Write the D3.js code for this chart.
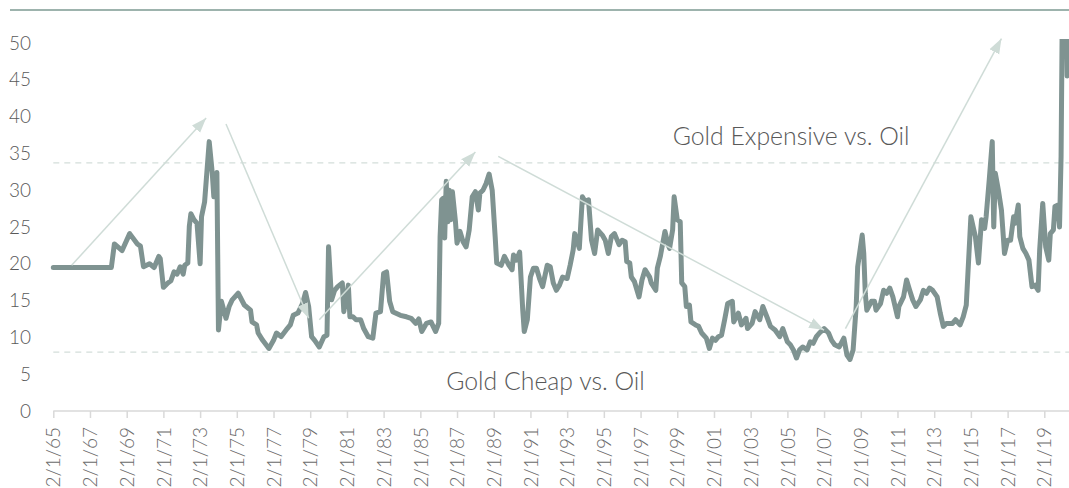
<!DOCTYPE html>
<html><head><meta charset="utf-8">
<script src="https://cdn.jsdelivr.net/npm/d3@7"></script>
<style>
body{margin:0;background:#fff;}
svg{display:block;font-family:Lato,"Source Sans Pro","Open Sans",sans-serif;font-weight:300;}
</style></head><body>
<svg id="c" width="1069" height="488"></svg>
<script>
// ---- data (gold / oil ratio) ----
const dates = ["1965-02","1968-04","1968-06","1968-11","1969-04","1969-09","1969-11","1970-01","1970-05","1970-08","1970-11","1970-12","1971-02","1971-05","1971-07","1971-09","1971-11","1972-01","1972-03","1972-04","1972-06","1972-07","1972-08","1972-10","1972-12","1973-02","1973-03","1973-05","1973-08","1973-10","1973-11","1974-01","1974-02","1974-04","1974-07","1974-09","1974-11","1975-03","1975-07","1975-11","1975-12","1976-03","1976-04","1976-07","1976-11","1977-02","1977-04","1977-07","1977-11","1978-01","1978-03","1978-06","1978-09","1978-11","1979-01","1979-03","1979-05","1979-08","1979-11","1980-01","1980-02","1980-04","1980-06","1980-08","1980-11","1980-12","1981-03","1981-04","1981-06","1981-08","1981-11","1982-01","1982-04","1982-07","1982-09","1982-12","1983-02","1983-04","1983-06","1983-08","1984-01","1984-05","1984-08","1984-11","1985-01","1985-03","1985-06","1985-09","1985-12","1986-02","1986-03","1986-04","1986-05","1986-06","1986-07","1986-08","1986-09","1986-10","1986-11","1987-01","1987-02","1987-04","1987-06","1987-08","1987-10","1987-12","1988-02","1988-04","1988-05","1988-07","1988-09","1988-11","1989-01","1989-03","1989-04","1989-07","1989-09","1989-12","1990-02","1990-03","1990-05","1990-07","1990-09","1990-10","1990-12","1991-02","1991-04","1991-06","1991-08","1991-10","1992-01","1992-03","1992-05","1992-07","1992-09","1992-11","1993-02","1993-04","1993-06","1993-07","1993-09","1993-10","1993-12","1994-02","1994-04","1994-06","1994-08","1994-10","1995-01","1995-03","1995-05","1995-07","1995-09","1995-12","1996-02","1996-04","1996-05","1996-07","1996-08","1996-10","1997-01","1997-03","1997-05","1997-08","1997-09","1997-12","1998-01","1998-03","1998-06","1998-08","1998-09","1998-11","1998-12","1999-02","1999-04","1999-05","1999-07","1999-08","1999-10","1999-11","2000-02","2000-04","2000-06","2000-09","2000-11","2001-01","2001-03","2001-05","2001-07","2001-09","2001-11","2002-02","2002-03","2002-06","2002-08","2002-11","2002-12","2003-03","2003-05","2003-08","2003-10","2004-01","2004-03","2004-06","2004-09","2004-11","2005-02","2005-04","2005-06","2005-08","2005-10","2005-12","2006-03","2006-05","2006-07","2006-09","2006-11","2007-02","2007-05","2007-07","2007-09","2007-12","2008-03","2008-05","2008-07","2008-09","2008-11","2008-12","2009-03","2009-04","2009-05","2009-06","2009-09","2009-11","2009-12","2010-03","2010-05","2010-07","2010-09","2010-11","2011-02","2011-03","2011-06","2011-08","2011-10","2011-12","2012-02","2012-05","2012-07","2012-09","2012-11","2013-01","2013-04","2013-06","2013-08","2013-10","2014-02","2014-04","2014-07","2014-09","2014-11","2015-02","2015-04","2015-05","2015-07","2015-09","2015-11","2015-12","2016-02","2016-04","2016-05","2016-06","2016-08","2016-10","2016-12","2017-02","2017-04","2017-06","2017-07","2017-09","2017-10","2017-12","2018-02","2018-04","2018-06","2018-08","2018-10","2018-11","2019-01","2019-03","2019-05","2019-06","2019-08","2019-09","2019-11","2019-12","2020-01","2020-02","2020-04","2020-05","2020-07"];
const values = [19.5,19.5,22.7,21.8,24.1,22.7,22.4,19.6,20.0,19.5,21.0,20.7,16.8,17.4,17.7,18.9,18.6,19.6,18.6,19.8,20.1,25.1,26.8,26.0,25.5,20.0,26.4,28.4,36.6,32.3,29.1,32.4,11.0,14.9,12.6,14.2,15.1,16.0,14.4,13.7,12.1,11.7,10.6,9.6,8.5,9.6,10.6,10.1,11.2,11.7,13.0,13.3,14.6,16.1,14.2,10.1,9.6,8.7,10.1,10.3,22.3,15.1,16.4,16.9,17.4,13.5,17.1,12.8,12.8,12.4,12.4,11.2,10.1,9.9,13.3,13.5,18.7,18.9,14.9,13.5,13.0,12.8,12.6,11.9,12.5,10.8,11.9,12.1,10.8,11.9,23.7,28.7,28.9,23.5,31.2,25.7,30.0,26.0,29.8,25.7,22.8,24.4,23.0,22.3,24.6,29.1,29.8,27.3,29.6,30.0,30.9,32.2,30.0,23.7,20.1,19.8,21.0,19.8,19.2,21.2,20.5,21.6,13.7,10.8,12.4,18.2,19.4,19.4,18.0,16.9,19.8,19.6,17.4,16.4,17.1,18.2,18.0,19.8,21.9,24.1,22.8,22.1,29.1,28.4,28.7,23.2,21.4,24.6,23.9,23.2,21.4,23.7,24.1,22.6,23.2,23.0,20.3,20.1,18.2,17.6,15.5,17.8,19.2,18.2,17.4,16.4,19.4,21.0,24.4,22.6,22.1,24.6,29.1,26.0,25.7,17.4,16.9,14.2,14.4,12.1,11.7,11.5,10.6,9.9,8.5,9.9,9.6,10.1,10.3,12.4,14.6,14.9,12.1,13.3,11.7,12.6,11.2,11.9,13.5,12.4,14.2,12.6,11.5,11.0,10.1,11.2,9.4,9.0,8.3,7.2,8.3,8.7,8.3,9.4,9.2,10.1,10.6,11.2,10.6,9.6,9.0,8.7,9.9,7.6,7.0,8.3,14.2,19.6,23.9,21.4,16.0,13.7,14.9,14.9,13.7,14.6,16.4,16.0,16.7,15.5,12.8,14.2,15.5,17.8,16.4,15.1,14.2,15.1,16.4,16.0,16.7,16.4,15.5,13.3,11.5,11.9,11.9,12.4,11.7,12.8,14.4,26.4,24.6,23.7,20.1,26.0,24.8,26.4,31.4,36.6,25.0,32.3,30.0,27.3,21.4,23.2,23.2,26.4,25.5,28.0,23.7,22.1,21.4,20.5,16.9,17.1,16.4,21.9,28.2,22.3,20.5,24.1,24.6,27.8,28.0,25.0,34.6,60,60,45.5,46];

const yTicks = [0,5,10,15,20,25,30,35,40,45,50];
const xTickYears = d3.range(1965, 2020, 2);
const xTickLabels = ["2/1/65","2/1/67","2/1/69","2/1/71","2/1/73","2/1/75","2/1/77","2/1/79","2/1/81","2/1/83","2/1/85","2/1/87","2/1/89","2/1/91","2/1/93","2/1/95","2/1/97","2/1/99","2/1/01","2/1/03","2/1/05","2/1/07","2/1/09","2/1/11","2/1/13","2/1/15","2/1/17","2/1/19"];

// valuation thresholds (dashed lines)
const thresholds = [8.0, 33.7];

// trend arrows: [from date, from value, to date, to value]
const arrows = [
  ["1966-02", 19.8, "1973-06", 39.8],
  ["1974-07", 39.0, "1979-01", 12.6],
  ["1979-08", 12.4, "1988-02", 35.2],
  ["1989-05", 34.6, "2007-02", 11.0],
  ["2008-04", 11.2, "2016-10", 50.6]
];

// annotations: [text, date, value]
const notes = [
  ["Gold Expensive vs. Oil", "1998-11", 36.1],
  ["Gold Cheap vs. Oil", "1986-07", 2.8]
];

// ---- chart ----
const W = 1069, H = 488;
const svg = d3.select("#c");
const parse = d3.timeParse("%Y-%m");
const data = dates.map((d, i) => ({ date: parse(d), v: values[i] }));

const x = d3.scaleTime()
  .domain([new Date(1965, 1, 1), new Date(2019, 1, 1)])
  .range([53.3, 1044.3]);
const y = d3.scaleLinear().domain([0, 50]).range([411, 43]);

const textColor = "#595959";

// top rule
svg.append("line")
  .attr("x1", 10).attr("x2", W).attr("y1", 10).attr("y2", 10)
  .attr("stroke", "#9db3ad").attr("stroke-width", 2);

// y axis labels
const yAxis = d3.axisLeft(y).tickValues(yTicks).tickSize(0).tickPadding(0);
const gy = svg.append("g").attr("transform", "translate(31,0)").call(yAxis);
gy.select(".domain").remove();
gy.selectAll("text")
  .attr("fill", textColor).style("font-size", "19px")
  .style("font-family", "Lato").style("font-weight", 300);

// threshold dashed lines
svg.append("g").selectAll("line").data(thresholds).join("line")
  .attr("x1", x.range()[0]).attr("x2", W)
  .attr("y1", d => y(d)).attr("y2", d => y(d))
  .attr("stroke", "#d3deda").attr("stroke-width", 1.3)
  .attr("stroke-dasharray", "6,5");

// x axis
const xTickDates = xTickYears.map(yr => new Date(yr, 1, 1));
const xAxis = d3.axisBottom(x).tickValues(xTickDates)
  .tickFormat((d, i) => xTickLabels[i]).tickSizeInner(7).tickSizeOuter(0).tickPadding(9);
const gx = svg.append("g").attr("transform", "translate(0,411)").call(xAxis);
gx.select(".domain").attr("d", `M${x.range()[0]},0H${W}`)
  .attr("stroke", "#d9d9d9").attr("stroke-width", 1.5);
gx.selectAll(".tick line").attr("stroke", "#d9d9d9").attr("stroke-width", 1.5);
gx.selectAll(".tick text")
  .attr("fill", "#6b6b6b").style("font-size", "19px")
  .style("font-family", "Lato").style("font-weight", 300)
  .attr("text-anchor", "end")
  .attr("transform", "rotate(-90)")
  .attr("x", -16).attr("y", 0).attr("dy", "0.35em");

// clip for the series
svg.append("defs").append("clipPath").attr("id", "plotclip")
  .append("rect").attr("x", 0).attr("y", 39).attr("width", W + 20).attr("height", 411 - 39);

// arrow marker
svg.select("defs").append("marker")
  .attr("id", "ah").attr("markerUnits", "userSpaceOnUse")
  .attr("markerWidth", 16).attr("markerHeight", 12)
  .attr("refX", 15).attr("refY", 6).attr("orient", "auto")
  .append("path").attr("d", "M0,0.5L15,6L0,11.5Z").attr("fill", "#cfdcd7");

// series line
const line = d3.line().x(d => x(d.date)).y(d => y(d.v)).curve(d3.curveLinear);
svg.append("path").datum(data)
  .attr("clip-path", "url(#plotclip)")
  .attr("d", line)
  .attr("fill", "none").attr("stroke", "#7f9391")
  .attr("stroke-width", 5).attr("stroke-linejoin", "round").attr("stroke-linecap", "round");

// arrows
svg.append("g").selectAll("line").data(arrows).join("line")
  .attr("x1", d => x(parse(d[0]))).attr("y1", d => y(d[1]))
  .attr("x2", d => x(parse(d[2]))).attr("y2", d => y(d[3]))
  .attr("stroke", "#cfdcd7").attr("stroke-width", 1.5)
  .attr("marker-end", "url(#ah)");

// annotations
svg.append("g").selectAll("text").data(notes).join("text")
  .attr("x", d => x(parse(d[1]))).attr("y", d => y(d[2]))
  .attr("fill", textColor).style("font-size", "24.8px")
  .style("font-family", "Lato").style("font-weight", 300)
  .text(d => d[0]);
</script>
</body></html>
